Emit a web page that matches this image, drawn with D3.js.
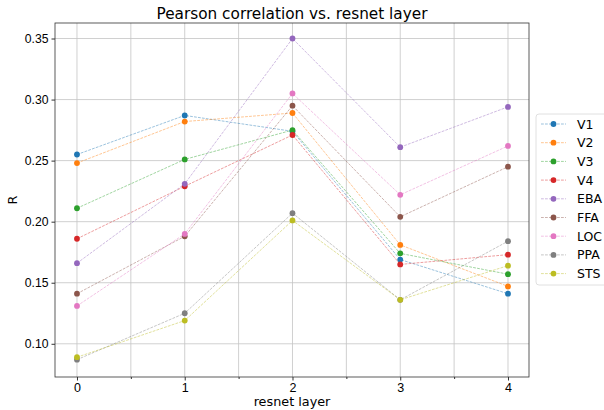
<!DOCTYPE html>
<html>
<head>
<meta charset="utf-8">
<script src="https://cdn.jsdelivr.net/npm/d3@7"></script>
<style>
  body { margin: 0; background: white; }
  svg { font-family: "DejaVu Sans", sans-serif; }
</style>
</head>
<body>
<div class="chart"></div>
<script>
const layers = [0, 1, 2, 3, 4];
const regions = ["V1", "V2", "V3", "V4", "EBA", "FFA", "LOC", "PPA", "STS"];
const colors = ["#1f77b4", "#ff7f0e", "#2ca02c", "#d62728", "#9467bd", "#8c564b", "#e377c2", "#7f7f7f", "#bcbd22"];

const V1  = [0.255, 0.287, 0.274, 0.169, 0.141];
const V2  = [0.248, 0.282, 0.289, 0.181, 0.147];
const V3  = [0.211, 0.251, 0.275, 0.174, 0.157];
const V4  = [0.186, 0.229, 0.271, 0.165, 0.173];
const EBA = [0.166, 0.231, 0.350, 0.261, 0.294];
const FFA = [0.141, 0.188, 0.295, 0.204, 0.245];
const LOC = [0.131, 0.190, 0.305, 0.222, 0.262];
const PPA = [0.087, 0.125, 0.207, 0.136, 0.184];
const STS = [0.089, 0.119, 0.201, 0.136, 0.164];

const yTicks = [0.10, 0.15, 0.20, 0.25, 0.30, 0.35];
const xMinor = [0.5, 1.5, 2.5, 3.5];

const seriesValues = [V1, V2, V3, V4, EBA, FFA, LOC, PPA, STS];
const series = regions.map((name, i) => ({
  name, color: colors[i],
  points: layers.map((l, j) => ({ x: l, y: seriesValues[i][j] }))
}));

const totalWidth = 604, totalHeight = 410;
const margin = {top: 23, right: 75, bottom: 33, left: 55};

const svg = d3.select('.chart').append('svg')
  .attr('width', totalWidth).attr('height', totalHeight);

const x = d3.scaleLinear()
  .domain([-0.204, 4.195])
  .range([margin.left, totalWidth - margin.right]);

const y = d3.scaleLinear()
  .domain([0.0728, 0.3627])
  .range([totalHeight - margin.bottom, margin.top]);

const gridColor = '#c4c4c4';

// grid (major + minor on x, major on y)
svg.append('g')
  .selectAll('line')
  .data(layers.concat(xMinor))
  .join('line')
    .attr('x1', d => x(d)).attr('x2', d => x(d))
    .attr('y1', margin.top).attr('y2', totalHeight - margin.bottom)
    .attr('stroke', gridColor).attr('stroke-width', 0.8);

svg.append('g')
  .selectAll('line')
  .data(yTicks)
  .join('line')
    .attr('x1', margin.left).attr('x2', totalWidth - margin.right)
    .attr('y1', d => y(d)).attr('y2', d => y(d))
    .attr('stroke', gridColor).attr('stroke-width', 0.8);

// axes
svg.append('g')
  .attr('transform', `translate(0,${totalHeight - margin.bottom})`)
  .call(d3.axisBottom(x).tickValues(layers).tickFormat(d3.format('d')).tickSize(3.5).tickPadding(3))
  .call(g => g.select('.domain').remove())
  .call(g => g.selectAll('text').attr('font-size', 12.5).attr('fill', '#000'))
  .call(g => g.selectAll('.tick line').attr('stroke', '#333'));

svg.append('g')
  .attr('transform', `translate(0,${totalHeight - margin.bottom})`)
  .call(d3.axisBottom(x).tickValues(xMinor).tickFormat('').tickSize(2))
  .call(g => g.select('.domain').remove())
  .call(g => g.selectAll('.tick line').attr('stroke', '#333'));

svg.append('g')
  .attr('transform', `translate(${margin.left},0)`)
  .call(d3.axisLeft(y).tickValues(yTicks).tickFormat(d3.format('.2f')).tickSize(3.5).tickPadding(3))
  .call(g => g.select('.domain').remove())
  .call(g => g.selectAll('text').attr('font-size', 12.2).attr('fill', '#000'))
  .call(g => g.selectAll('.tick line').attr('stroke', '#333'));

// lines
const line = d3.line().x(d => x(d.x)).y(d => y(d.y));

const sg = svg.append('g').selectAll('g')
  .data(series)
  .join('g');

sg.append('path')
  .attr('d', d => line(d.points))
  .attr('fill', 'none')
  .attr('stroke', d => d.color)
  .attr('stroke-width', 0.75)
  .attr('stroke-opacity', 0.6)
  .attr('stroke-dasharray', '2.8,1.2');

sg.selectAll('circle')
  .data(d => d.points.map(p => ({...p, color: d.color})))
  .join('circle')
    .attr('cx', d => x(d.x))
    .attr('cy', d => y(d.y))
    .attr('r', 2.9)
    .attr('fill', d => d.color);

// frame
svg.append('rect')
  .attr('x', margin.left).attr('y', margin.top)
  .attr('width', totalWidth - margin.right - margin.left)
  .attr('height', totalHeight - margin.bottom - margin.top)
  .attr('fill', 'none').attr('stroke', '#333').attr('stroke-width', 0.8);

// titles
svg.append('text')
  .attr('x', (margin.left + totalWidth - margin.right) / 2)
  .attr('y', 19)
  .attr('font-size', 15.3)
  .attr('text-anchor', 'middle')
  .text('Pearson correlation vs. resnet layer');

svg.append('text')
  .attr('x', (margin.left + totalWidth - margin.right) / 2)
  .attr('y', 406)
  .attr('font-size', 12.8)
  .attr('text-anchor', 'middle')
  .text('resnet layer');

svg.append('text')
  .attr('transform', `translate(17,${(margin.top + totalHeight - margin.bottom) / 2}) rotate(-90)`)
  .attr('font-size', 12.8)
  .attr('text-anchor', 'middle')
  .text('R');

// legend
const legend = svg.append('g').attr('transform', 'translate(536,114)');
legend.append('rect')
  .attr('width', 80).attr('height', 171)
  .attr('rx', 3)
  .attr('fill', 'white').attr('stroke', '#d8d8d8').attr('stroke-width', 0.8);

const item = legend.selectAll('g.item')
  .data(series)
  .join('g')
    .attr('class', 'item')
    .attr('transform', (d, i) => `translate(0,${10 + i * 18.7})`);

item.append('line')
  .attr('x1', 5).attr('x2', 30)
  .attr('stroke', d => d.color)
  .attr('stroke-width', 0.75)
  .attr('stroke-opacity', 0.6)
  .attr('stroke-dasharray', '2.8,1.2');

item.append('circle')
  .attr('cx', 17.5).attr('r', 2.9)
  .attr('fill', d => d.color);

item.append('text')
  .attr('x', 41).attr('y', 4.5)
  .attr('font-size', 12.5)
  .text(d => d.name);
</script>
</body>
</html>
